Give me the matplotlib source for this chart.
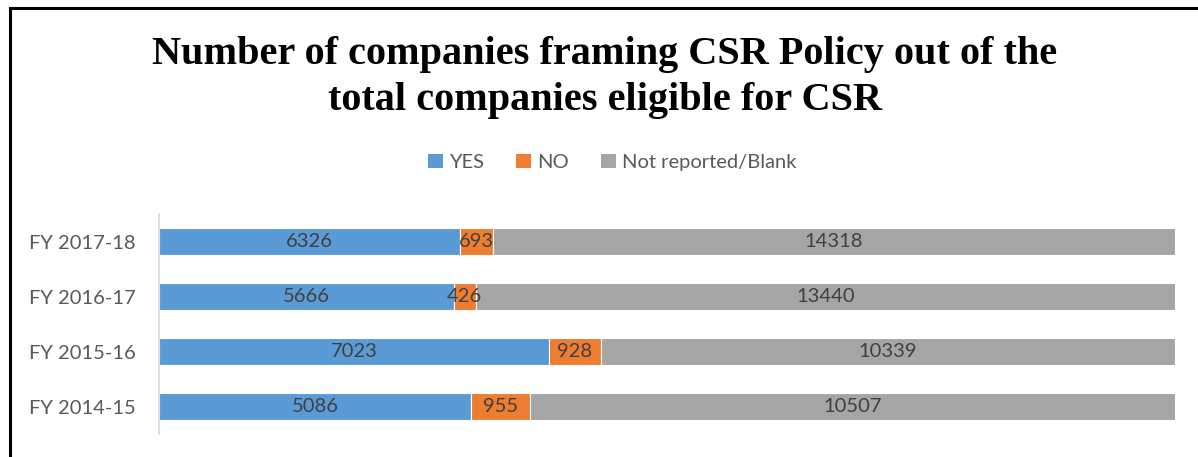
import matplotlib.pyplot as plt
from matplotlib.lines import Line2D
from matplotlib.patches import Patch

# Data
years = ["FY 2014-15", "FY 2015-16", "FY 2016-17", "FY 2017-18"]
yes_vals = [5086, 7023, 5666, 6326]
no_vals = [955, 928, 426, 693]
blank_vals = [10507, 10339, 13440, 14318]
series_names = ["YES", "NO", "Not reported/Blank"]
colors = ["#5B9BD5", "#ED7D31", "#A5A5A5"]

fig = plt.figure(figsize=(11.98, 4.57), dpi=100)
ax = fig.add_axes([0.1327, 0.0503, 0.8481, 0.4814])

series = [yes_vals, no_vals, blank_vals]
totals = [sum(v) for v in zip(*series)]
left = [0.0] * len(years)
for vals, name, col in zip(series, series_names, colors):
    pct = [v / t for v, t in zip(vals, totals)]
    ax.barh(range(len(years)), pct, left=left, height=0.5, color=col,
            edgecolor="white", linewidth=0.8, label=name)
    for i, (p, l, v) in enumerate(zip(pct, left, vals)):
        ax.text(l + p / 2, i, str(v), ha="center", va="center",
                fontsize=14.5, color="#404040", family="Lato")
    left = [l + p for l, p in zip(left, pct)]

ax.set_xlim(0, 1)
ax.set_ylim(-0.5, len(years) - 0.5)
ax.set_yticks(range(len(years)))
ax.set_yticklabels(years, fontsize=14.5, color="#595959", family="Lato")
ax.tick_params(axis="y", length=0, pad=17)
ax.set_xticks([])
for s in ["top", "right", "bottom"]:
    ax.spines[s].set_visible(False)
ax.spines["left"].set_color("#D9D9D9")
ax.spines["left"].set_linewidth(1.2)

# title
fig.text(0.505, 0.83, "Number of companies framing CSR Policy out of the\ntotal companies eligible for CSR",
         ha="center", va="center", fontsize=29, fontweight="bold",
         family="Liberation Serif", linespacing=1.3)

# legend
handles = [Patch(facecolor=c, edgecolor="none") for c in colors]
fig.legend(handles, series_names, loc="center", bbox_to_anchor=(0.511, 0.645),
           ncol=3, frameon=False, handlelength=0.75, handleheight=0.75,
           handletextpad=0.3, columnspacing=1.6,
           prop={"family": "Lato", "size": 14.5}, labelcolor="#595959")

# outer frame
fig.add_artist(Line2D([9.5 / 1198, 1.0], [1 - 7.5 / 457, 1 - 7.5 / 457],
                      color="black", linewidth=2.2, transform=fig.transFigure))
fig.add_artist(Line2D([9.5 / 1198, 9.5 / 1198], [0.0, 1 - 7.5 / 457],
                      color="black", linewidth=2.2, transform=fig.transFigure))

fig.savefig("out.png", dpi=100)
